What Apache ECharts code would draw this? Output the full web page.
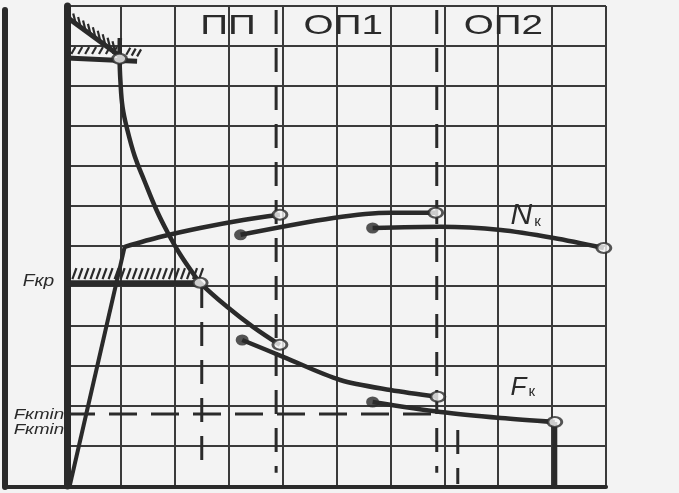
<!DOCTYPE html>
<html><head><meta charset="utf-8">
<script src="https://cdn.jsdelivr.net/npm/echarts/dist/echarts.min.js"></script>
<style>html,body{margin:0;padding:0;background:#f3f3f3}#c{width:679px;height:493px}</style>
</head><body><div id="c"></div>
<script>
// ---- data (axis units: x = speed cells, y = force/power cells) ----
const fPlateau   = [[0, 10.7], [1.3, 10.62]];
const adhesion   = [[0, 11.72], [1.05, 10.68]];
const fTop       = [[0.98, 11.2], [0.975, 10.68]];
const fCurve1    = [[0.975, 10.68], [0.99, 10.15], [1.03, 9.48], [1.12, 8.9], [1.26, 8.23], [1.43, 7.65], [1.66, 6.9], [1.87, 6.33], [2.08, 5.83], [2.33, 5.33], [2.47, 5.08], [2.97, 4.48], [3.45, 3.98], [3.95, 3.53]];
const fCurve2    = [[3.25, 3.65], [4.01, 3.23], [5.07, 2.65], [6.0, 2.4], [6.88, 2.23]];
const fCurve3    = [[5.67, 2.1], [6.93, 1.85], [8.05, 1.7], [9.05, 1.6]];
const fDrop      = [[9.05, 1.6], [9.05, 0]];
const nLinear    = [[0.05, 0], [1.07, 5.98]];
const nCurve1    = [[1.07, 5.98], [1.74, 6.23], [2.47, 6.45], [3.27, 6.65], [3.95, 6.78]];
const nCurve2    = [[3.22, 6.28], [4.94, 6.7], [6.0, 6.83], [6.84, 6.83]];
const nCurve3    = [[5.67, 6.45], [6.93, 6.48], [8.05, 6.4], [9.03, 6.2], [9.96, 5.95]];
const fkrLine    = [[0, 5.07], [2.47, 5.07]];
const fkminLine  = [[0, 1.8], [6.9, 1.8]];
const dashedV    = [[[3.88, 11.9], [3.88, 0.33]], [[6.86, 11.9], [6.86, 0.33]], [[2.5, 5.05], [2.5, 0.33]], [[7.25, 1.4], [7.25, 0.05]]];
const openPts    = [[0.975, 10.68], [2.47, 5.08], [3.95, 3.53], [6.88, 2.23], [9.05, 1.6], [3.95, 6.78], [6.84, 6.83], [9.96, 5.95]];
const filledPts  = [[3.25, 3.65], [5.67, 2.1], [3.22, 6.28], [5.67, 6.45]];
const hatchSegs  = [[0.08, 11.6, 0.9, 10.82], [0.08, 10.8, 0.85, 10.8], [1.1, 10.78, 1.3, 10.74], [0.1, 5.17, 2.45, 5.17]];
const gearLabels = ['ПП', 'ОП1', 'ОП2'];
const gearAt     = [[2.47, 11.49], [4.39, 11.5], [7.36, 11.5]];
const sideLabels = ['Fкр', 'Fкmin', 'Fкmin'];
const sideAt     = [[-0.82, 5.12], [-0.99, 1.79], [-0.99, 1.4]];

// ---- styles ----
const INK = '#2a2a2a';
const hatchStyle = [{dx: -3, dy: -12, step: 6}, {dx: 4, dy: -7, step: 6}, {dx: 4, dy: -7, step: 5}, {dx: 4, dy: -11, step: 6}];

const chart = echarts.init(document.getElementById('c'));
function line(data, w, extra) {
  return Object.assign({type: 'line', data: data, xAxisIndex: 0, yAxisIndex: 0, showSymbol: false, smooth: 0.3,
    lineStyle: {color: INK, width: w}, silent: true, z: 3, animation: false}, extra || {});
}
const series = [
  line(fPlateau, 5, {smooth: false}),
  line(adhesion, 5, {smooth: false}),
  line(fkrLine, 6, {smooth: false}),
  line(fTop, 4.5, {smooth: false}),
  line(fCurve1, 4.5, {smooth: 0.4}),
  line(fCurve2, 4.5),
  line(fCurve3, 4.5),
  line(fDrop, 5, {smooth: false}),
  line(nLinear, 4, {smooth: false}),
  line(nCurve1, 4.5),
  line(nCurve2, 4.5),
  line(nCurve3, 4.5),
  line(fkminLine, 3, {smooth: false, lineStyle: {color: INK, width: 3, type: [28, 14]}})
];
dashedV.forEach(d => series.push(line(d, 3, {smooth: false, lineStyle: {color: INK, width: 3, type: [24, 14]}})));
series.push({
  type: 'custom', xAxisIndex: 0, yAxisIndex: 0, data: hatchSegs, encode: {x: [0, 2], y: [1, 3]}, clip: false, silent: true, z: 2,
  animation: false,
  renderItem: function (params, api) {
    const s = hatchStyle[params.dataIndex];
    const p1 = api.coord([api.value(0), api.value(1)]);
    const p2 = api.coord([api.value(2), api.value(3)]);
    const len = Math.hypot(p2[0] - p1[0], p2[1] - p1[1]);
    const n = Math.max(1, Math.floor(len / s.step));
    const children = [];
    for (let k = 0; k <= n; k++) {
      const t = k / n;
      const bx = p1[0] + (p2[0] - p1[0]) * t, by = p1[1] + (p2[1] - p1[1]) * t;
      children.push({type: 'line', shape: {x1: bx, y1: by, x2: bx + s.dx, y2: by + s.dy}, style: {stroke: INK, lineWidth: 2.2}});
    }
    return {type: 'group', children: children};
  }
});
series.push({type: 'scatter', data: openPts, symbol: 'circle', symbolSize: [14, 10], silent: true, z: 6, animation: false,
  itemStyle: {color: '#f5f5f5', borderColor: INK, borderWidth: 2.5}});
series.push({type: 'scatter', data: filledPts, symbol: 'circle', symbolSize: [13, 11], silent: true, z: 6, animation: false,
  itemStyle: {color: INK}});

chart.setOption({
  backgroundColor: '#f3f3f3',
  animation: false,
  grid: [
    {left: 67, right: 73, top: 6, bottom: 7},
    {left: 5, right: 73, top: 10, bottom: 6}
  ],
  xAxis: [
    {type: 'value', min: 0, max: 10, interval: 1, gridIndex: 0, axisLabel: {show: false}, axisTick: {show: false},
      axisLine: {show: true, lineStyle: {color: INK, width: 3}},
      splitLine: {show: true, lineStyle: {color: '#3a3a3a', width: 2}}},
    {type: 'value', min: 0, max: 1, gridIndex: 1, axisLabel: {show: false}, axisTick: {show: false}, splitLine: {show: false},
      axisLine: {show: true, lineStyle: {color: INK, width: 4}}}
  ],
  yAxis: [
    {type: 'value', min: 0, max: 12, interval: 1, gridIndex: 0, axisLabel: {show: false}, axisTick: {show: false},
      axisLine: {show: true, lineStyle: {color: INK, width: 7}},
      splitLine: {show: true, lineStyle: {color: '#3a3a3a', width: 2}}},
    {type: 'value', min: 0, max: 1, gridIndex: 1, axisLabel: {show: false}, axisTick: {show: false}, splitLine: {show: false},
      axisLine: {show: true, lineStyle: {color: INK, width: 6}}}
  ],
  series: series
});

// ---- annotations placed from data coordinates ----
const toPx = p => chart.convertToPixel({gridIndex: 0}, p);
const g = [];
gearLabels.forEach((t, i) => {
  const p = toPx(gearAt[i]);
  g.push({type: 'text', x: p[0], y: p[1], scaleX: 1.38, z: 10,
    style: {text: t, fill: INK, font: '28px "Liberation Sans", Arial, sans-serif', textAlign: 'left', textVerticalAlign: 'middle'}});
});
sideLabels.forEach((t, i) => {
  const p = toPx(sideAt[i]);
  g.push({type: 'text', x: p[0], y: p[1], scaleX: i === 0 ? 1.2 : 1.25, z: 10,
    style: {text: t, fill: INK, font: 'italic ' + (i === 0 ? 16 : 15) + 'px "Liberation Sans", Arial, sans-serif', textAlign: 'left', textVerticalAlign: 'middle'}});
});
const curveNames = [{main: 'N', sub: 'к', at: [8.23, 6.75], size: 30}, {main: 'F', sub: 'к', at: [8.23, 2.45], size: 26}];
curveNames.forEach(c => {
  const p = toPx(c.at);
  g.push({type: 'text', x: p[0], y: p[1], z: 10,
    style: {text: '{a|' + c.main + '}{b|' + c.sub + '}', textAlign: 'left', textVerticalAlign: 'middle',
      rich: {a: {fontSize: c.size, fontStyle: 'italic', fontFamily: '"Liberation Sans", Arial, sans-serif', fill: INK, color: INK},
             b: {fontSize: 15, fontFamily: '"Liberation Sans", Arial, sans-serif', verticalAlign: 'bottom', fill: INK, color: INK, padding: [0, 0, 2, 2]}}}});
});
chart.setOption({graphic: g});
</script>
</body></html>
